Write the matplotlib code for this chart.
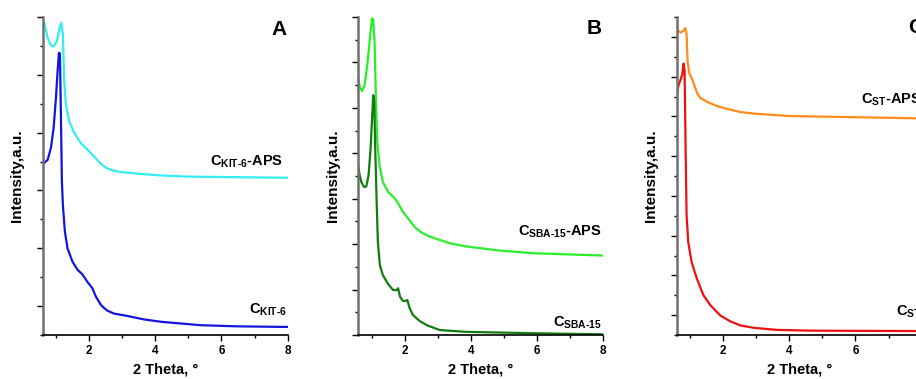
import numpy as np
from matplotlib import pyplot as plt
from matplotlib.ticker import MultipleLocator

plt.rcParams['font.family'] = ['Liberation Sans', 'DejaVu Sans']
plt.rcParams['font.weight'] = 'bold'
plt.rcParams['mathtext.fontset'] = 'custom'
plt.rcParams['mathtext.bf'] = 'Liberation Sans:bold'
plt.rcParams['mathtext.rm'] = 'Liberation Sans:bold'
plt.rcParams['mathtext.default'] = 'bf'

# Panel A: C_KIT-6-APS (upper) and C_KIT-6 (lower)
kit_aps_x = [0.65, 0.75, 0.85, 0.93, 1.03, 1.10, 1.16, 1.21, 1.25, 1.30, 1.40, 1.55, 1.75, 1.95, 2.05, 2.15,
             2.36, 2.45, 2.56, 2.76, 2.96, 3.5, 4.16, 5.0, 6.5, 8.0]
kit_aps_y = [5.90, 5.64, 5.51, 5.49, 5.58, 5.79, 5.90, 5.70, 4.89, 4.49, 4.20, 4.00, 3.82, 3.71, 3.65, 3.59,
             3.46, 3.42, 3.38, 3.34, 3.32, 3.29, 3.26, 3.24, 3.23, 3.22]
kit_x = [0.65, 0.75, 0.85, 0.93, 1.00, 1.05, 1.09, 1.12, 1.15, 1.18, 1.21, 1.27, 1.35, 1.50, 1.65, 1.80, 1.95,
         2.10, 2.21, 2.36, 2.45, 2.56, 2.76, 3.16, 3.66, 4.16, 5.37, 6.5, 8.0]
kit_y = [3.48, 3.53, 3.74, 4.08, 4.60, 5.06, 5.38, 5.37, 4.31, 3.16, 2.75, 2.29, 2.00, 1.77, 1.63, 1.55, 1.42,
         1.31, 1.16, 1.02, 0.97, 0.92, 0.87, 0.83, 0.77, 0.73, 0.67, 0.65, 0.64]

# Panel B: C_SBA-15-APS (upper) and C_SBA-15 (lower)
sba_aps_x = [0.59, 0.64, 0.71, 0.79, 0.87, 0.94, 1.01, 1.05, 1.09, 1.13, 1.17, 1.24, 1.34, 1.50, 1.70, 1.80,
             1.95, 2.10, 2.30, 2.50, 2.71, 2.91, 3.36, 3.86, 4.87, 5.88, 8.0]
sba_aps_y = [5.69, 5.47, 5.37, 5.50, 5.94, 6.46, 6.97, 6.95, 6.46, 5.21, 4.26, 3.74, 3.37, 3.15, 3.01, 2.90,
             2.71, 2.57, 2.38, 2.26, 2.18, 2.13, 2.02, 1.95, 1.86, 1.80, 1.75]
sba_x = [0.59, 0.64, 0.69, 0.77, 0.84, 0.91, 0.97, 1.01, 1.05, 1.08, 1.11, 1.15, 1.19, 1.25, 1.34, 1.50, 1.65,
         1.76, 1.80, 1.86, 1.95, 2.02, 2.08, 2.15, 2.25, 2.45, 2.66, 2.91, 3.06, 3.86, 5.88, 8.0]
sba_y = [3.74, 3.52, 3.37, 3.26, 3.27, 3.52, 4.11, 4.70, 5.28, 5.14, 4.11, 3.01, 2.05, 1.54, 1.32, 1.12, 0.99,
         0.99, 1.03, 0.84, 0.75, 0.75, 0.77, 0.59, 0.44, 0.31, 0.22, 0.15, 0.11, 0.07, 0.04, 0.015]

# Panel C: C_ST-APS (upper) and C_ST (lower)
st_aps_x = [0.58, 0.65, 0.72, 0.80, 0.86, 0.90, 0.93, 0.98, 1.05, 1.13, 1.21, 1.31, 1.51, 1.82, 2.12, 2.53,
            2.94, 4.0, 6.0, 8.0]
st_aps_y = [8.36, 8.15, 8.11, 8.15, 8.22, 8.07, 7.39, 7.10, 6.97, 6.80, 6.60, 6.47, 6.37, 6.26, 6.19, 6.11,
            6.07, 6.01, 5.98, 5.95]
st_x = [0.58, 0.65, 0.72, 0.77, 0.81, 0.84, 0.87, 0.90, 0.95, 1.05, 1.21, 1.41, 1.62, 1.92, 2.23, 2.53, 2.94,
        3.62, 4.64, 8.0]
st_y = [6.38, 6.76, 6.93, 7.06, 7.33, 7.15, 5.21, 3.52, 2.84, 2.34, 1.92, 1.50, 1.25, 0.99, 0.84, 0.74, 0.68,
        0.63, 0.61, 0.60]

panels = [
    dict(letter='A', ylim=(0.5, 6.0), left=0.0466, letter_xy=(7.98, 5.79),
         series=[(kit_aps_x, kit_aps_y, '#33eef2', r'C$_{KIT\text{-}6}$-APS', (7.87, 3.50)),
                 (kit_x, kit_y, '#1414e0', r'C$_{KIT\text{-}6}$', (7.98, 0.93))]),
    dict(letter='B', ylim=(0.0, 7.0), left=0.3912, letter_xy=(7.95, 6.75),
         series=[(sba_aps_x, sba_aps_y, '#2aee2a', r'C$_{SBA\text{-}15}$-APS', (7.95, 2.27)),
                 (sba_x, sba_y, '#127c12', r'C$_{SBA\text{-}15}$', (7.95, 0.26))]),
    dict(letter='C', ylim=(0.5, 8.5), left=0.7387, letter_xy=(8.05, 8.24),
         series=[(st_aps_x, st_aps_y, '#ff8c1a', r'C$_{ST}$-APS', (8.0, 6.43)),
                 (st_x, st_y, '#ee1111', r'C$_{ST}$', (8.0, 1.08))]),
]

fig = plt.figure(figsize=(9.16, 3.79), dpi=100)

for p in panels:
    ax = fig.add_axes([p['left'], 0.116, 0.2675, 0.839])
    for x, y, color, label, (lx, ly) in p['series']:
        ax.plot(x, y, color=color, lw=1.6)
        ax.text(lx, ly, label, ha='right', va='center', fontsize=10.5, fontweight='bold')
    ax.text(p['letter_xy'][0], p['letter_xy'][1], p['letter'], ha='right', va='center',
            fontsize=15, fontweight='bold')
    ax.set_xlim(0.6, 8)
    ax.set_ylim(*p['ylim'])
    ax.xaxis.set_major_locator(MultipleLocator(2))
    ax.xaxis.set_minor_locator(MultipleLocator(1))
    ax.yaxis.set_major_locator(MultipleLocator(1))
    ax.yaxis.set_minor_locator(MultipleLocator(0.5))
    ax.set_yticklabels([])
    ax.tick_params(axis='x', which='major', length=4, width=1, labelsize=8.5, pad=3)
    ax.tick_params(axis='x', which='minor', length=2.5, width=1)
    ax.tick_params(axis='y', which='major', length=4, width=1)
    ax.tick_params(axis='y', which='minor', length=2.5, width=1)
    for lab in ax.get_xticklabels():
        lab.set_fontweight('bold')
    ax.spines['top'].set_visible(False)
    ax.spines['right'].set_visible(False)
    ax.spines['left'].set_color('#707070')
    ax.spines['left'].set_linewidth(1.8)
    ax.spines['bottom'].set_linewidth(1.2)
    ax.set_xlabel('2 Theta, \u00b0', fontsize=10.5, fontweight='bold', labelpad=4)
    ax.set_ylabel('Intensity,a.u.', fontsize=11, fontweight='bold', labelpad=6)

fig.savefig('out.png', dpi=100)
